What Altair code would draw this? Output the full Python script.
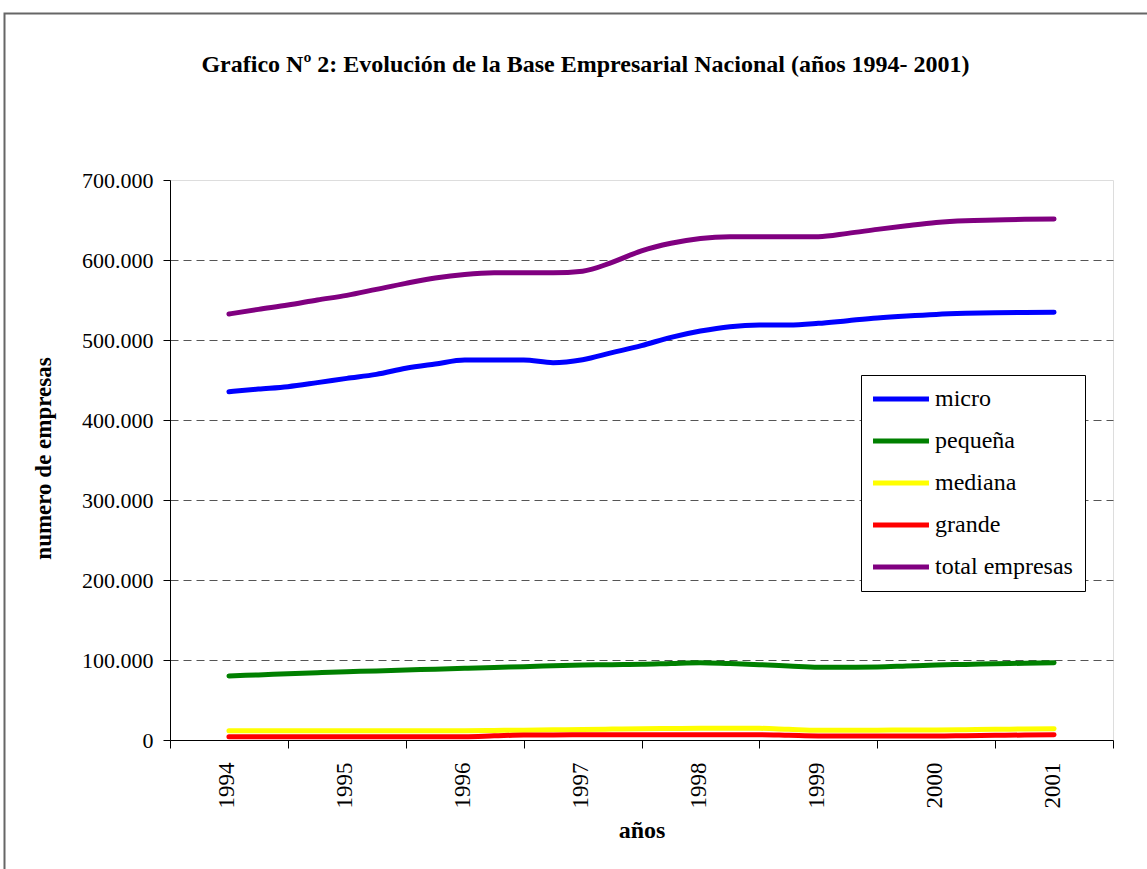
import altair as alt
import pandas as pd

# ---------------- data ----------------
periodos = [1994.0, 1994.25, 1994.5, 1994.75, 1995.0, 1995.25, 1995.5, 1995.75,
            1996.0, 1996.25, 1996.5, 1996.75, 1997.0, 1997.25, 1997.5, 1997.75,
            1998.0, 1998.25, 1998.5, 1998.75, 1999.0, 1999.25, 1999.5, 1999.75,
            2000.0, 2000.25, 2000.5, 2000.75, 2001.0]

micro = [435400, 438700, 441700, 446700, 452000, 457000, 464600, 470000,
         475000, 475000, 475000, 471700, 475400, 484200, 493000, 503300,
         511200, 516700, 518700, 518700, 520800, 524200, 527500, 530000,
         532000, 533300, 534200, 534500, 534600]
pequena = [80000, 81400, 82700, 84100, 85400, 86400, 87500, 88500,
           89600, 90600, 91700, 92700, 93700, 94200, 94600, 95700,
           96700, 95500, 94200, 92500, 90800, 91000, 91300, 92500,
           93700, 94500, 95200, 96000, 96700]
mediana = [11700, 11700, 11700, 11700, 11700, 11700, 11700, 11700,
           11700, 12000, 12300, 12700, 13000, 13600, 14200, 14400,
           14600, 14600, 14600, 13300, 12100, 12200, 12300, 12400,
           12500, 12900, 13300, 13800, 14200]
grande = [4200, 4200, 4200, 4200, 4200, 4200, 4200, 4200,
          4200, 5200, 6200, 6400, 6500, 6600, 6600, 6600,
          6600, 6600, 6600, 5800, 5000, 5000, 5000, 5000,
          5000, 5400, 5800, 6200, 6500]
total = [532500, 538300, 543700, 550000, 555800, 563300, 570800, 577500,
         582000, 584000, 584000, 584000, 586000, 597000, 611500, 621000,
         627000, 629000, 629000, 629000, 629200, 633300, 638300, 642900,
         647000, 649200, 650000, 650800, 651200]

series = ["micro", "pequeña", "mediana", "grande", "total empresas"]
colores = ["#0000FF", "#008000", "#FFFF00", "#FF0000", "#800080"]
valores = [micro, pequena, mediana, grande, total]

anios = [1994, 1995, 1996, 1997, 1998, 1999, 2000, 2001]
limites = [1993.5, 1994.5, 1995.5, 1996.5, 1997.5, 1998.5, 1999.5, 2000.5, 2001.5]
y_ticks = [0, 100000, 200000, 300000, 400000, 500000, 600000, 700000]

rows = []
for nombre, vals in zip(series, valores):
    for p, v in zip(periodos, vals):
        rows.append({"periodo": p, "empresas": v, "serie": nombre})
df = pd.DataFrame(rows)

FONT = "Liberation Serif"
W, H = 943, 560

x_enc = alt.X(
    "periodo:Q",
    scale=alt.Scale(domain=[limites[0], limites[-1]], nice=False, zero=False),
    axis=alt.Axis(
        title="años",
        values=limites,
        labelExpr="datum.value < 2001 ? '' + (datum.value + 0.5) : ''",
        labelOffset=W / len(anios) / 2 - 2,
        labelAngle=270,
        labelFont=FONT, labelFontSize=23, labelColor="black",
        labelPadding=14, tickSize=8, tickColor="black",
        domainColor="black", grid=False,
        titleFont=FONT, titleFontSize=24, titleFontWeight="bold",
        titleColor="black", titleY=97, titleBaseline="alphabetic",
    ),
)
y_enc = alt.Y(
    "empresas:Q",
    scale=alt.Scale(domain=[0, 700000], nice=False),
    axis=alt.Axis(
        title="numero de empresas",
        values=y_ticks,
        format=",d",
        labelFont=FONT, labelFontSize=22, labelColor="black",
        labelPadding=10, tickSize=7, tickColor="black",
        domainColor="black",
        grid=True, gridColor="#555555", gridDash=[8, 5], gridWidth=1,
        gridOpacity={"condition": {"test": "datum.value == 0 || datum.value == 700000", "value": 0}, "value": 1},
        titleFont=FONT, titleFontSize=23, titleFontWeight="bold",
        titleColor="black", titleX=-115, titleY=H / 2 - 2,
    ),
)

frame = alt.Chart(pd.DataFrame({"k": [0]})).mark_rect(
    fillOpacity=0, stroke="#666666", strokeWidth=2
).encode(
    x=alt.value(-165.5), x2=alt.value(1000), y=alt.value(-166.5), y2=alt.value(720)
)

lines = alt.Chart(df).mark_line(
    strokeWidth=5, strokeCap="round", strokeJoin="round", interpolate="monotone"
).encode(
    x=x_enc,
    y=y_enc,
    color=alt.Color(
        "serie:N",
        scale=alt.Scale(domain=series, range=colores),
        sort=series,
        legend=alt.Legend(
            title=None, orient="none", legendX=691, legendY=195,
            fillColor="white", strokeColor="black", padding=12,
            symbolType="M-3,0H3", symbolSize=348, symbolStrokeWidth=5,
            symbolOffset=16, labelOffset=22, rowPadding=18,
            labelFont=FONT, labelFontSize=24, labelColor="black",
        ),
    ),
)

chart = alt.layer(frame, lines).properties(
    width=W, height=H,
    title=alt.TitleParams(
        text="Grafico Nº 2: Evolución de la Base Empresarial Nacional (años 1994- 2001)",
        font=FONT, fontSize=24, fontWeight="bold", color="black",
        anchor="middle", frame="group", dx=-56, baseline="alphabetic", offset=-83,
    ),
    padding={"left": 170, "top": 180, "right": 34, "bottom": 129},
    autosize=alt.AutoSizeParams(type="none"),
    background="white",
).configure_view(
    stroke="#888888", strokeWidth=1
).configure(
    locale={"number": {"decimal": ",", "thousands": ".", "grouping": [3], "currency": ["", " €"]}}
)

chart.save("out.html", embed_options={"renderer": "svg", "actions": False})
